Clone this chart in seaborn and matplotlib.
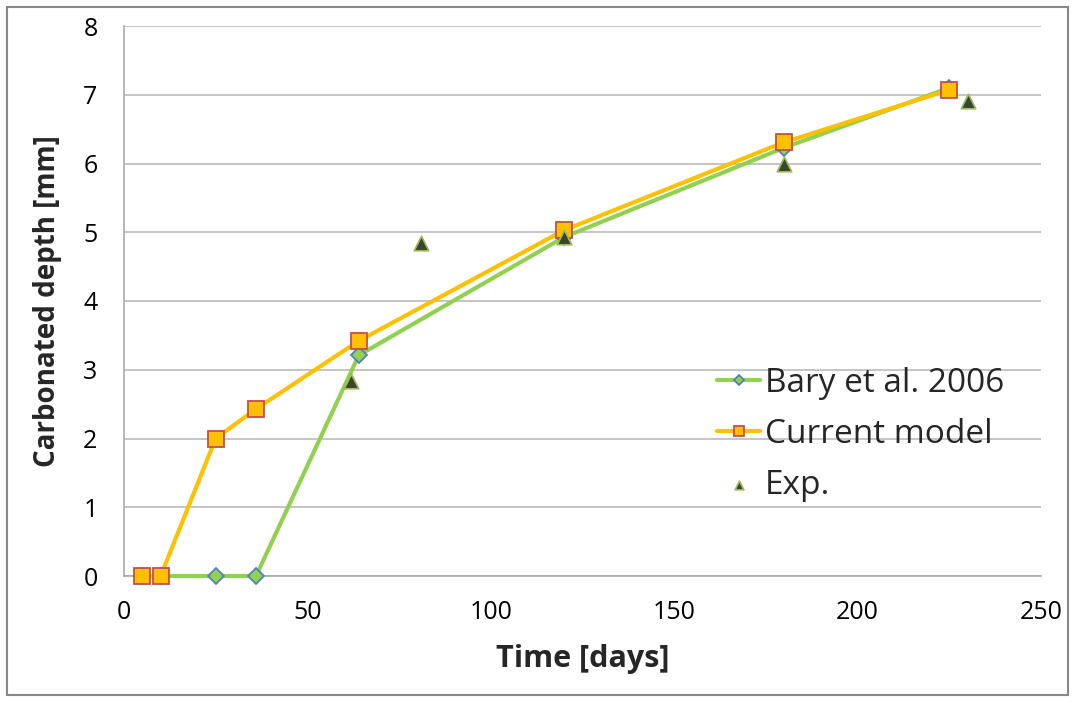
import numpy as np
import pandas as pd
import matplotlib
matplotlib.use("Agg")
import matplotlib.pyplot as plt
from matplotlib.patches import Rectangle
import seaborn as sns

# =========================================
# data
# =========================================
bary_days = [5, 10, 25, 36, 64, 120, 180, 225]
bary_depth = [0.0, 0.0, 0.0, 0.0, 3.21, 4.93, 6.23, 7.10]

model_days = [5, 10, 25, 36, 64, 120, 180, 225]
model_depth = [0.0, 0.0, 2.0, 2.43, 3.42, 5.03, 6.31, 7.07]

exp_days = [62, 81, 120, 180, 230]
exp_depth = [2.84, 4.85, 4.93, 6.0, 6.91]

x_ticks = [0, 50, 100, 150, 200, 250]
y_ticks = [0, 1, 2, 3, 4, 5, 6, 7, 8]

# =========================================
# style
# =========================================
sns.set_style("white")
plt.rcParams['font.family'] = ['Open Sans', 'DejaVu Sans']

fig = plt.figure(figsize=(10.75, 7.02), dpi=100)
ax = fig.add_axes([124/1075, 1 - 576/702, (1041 - 124)/1075, (576 - 26)/702])

sns.lineplot(x=bary_days, y=bary_depth, ax=ax, color='#92D050', lw=3,
             marker='D', markersize=8, markerfacecolor='#92D050',
             markeredgecolor='#4F81BD', markeredgewidth=1.3,
             label='Bary et al. 2006', zorder=3, clip_on=False)
sns.lineplot(x=model_days, y=model_depth, ax=ax, color='#FFC000', lw=3,
             marker='s', markersize=11, markerfacecolor='#FFC000',
             markeredgecolor='#C0504D', markeredgewidth=1.3,
             label='Current model', zorder=4, clip_on=False)
sns.scatterplot(x=exp_days, y=exp_depth, ax=ax, marker='^', s=110,
                color='#3A4530', edgecolor='#9BBB59', linewidth=1.2,
                label='Exp.', zorder=5, clip_on=False)

ax.set_xlim(0, 250)
ax.set_ylim(0, 8)
ax.set_xticks(x_ticks)
ax.set_yticks(y_ticks)
ax.yaxis.grid(True, color='#BBBBBB', lw=1.2)
ax.xaxis.grid(False)
for s in ['top', 'right']:
    ax.spines[s].set_visible(False)
for s in ['left', 'bottom']:
    ax.spines[s].set_color('#AAAAAA')
    ax.spines[s].set_linewidth(1.2)
ax.tick_params(axis='both', labelsize=18, colors='#AAAAAA', labelcolor='black',
               length=7, width=1.2, direction='out')
ax.tick_params(axis='y', pad=12)
ax.tick_params(axis='x', pad=10)

ax.set_xlabel('Time [days]', fontsize=22, fontweight='bold', labelpad=14)
ax.set_ylabel('Carbonated depth [mm]', fontsize=20, fontweight='bold', labelpad=15)

leg = ax.legend(loc='upper left', bbox_to_anchor=(0.632, 0.405), frameon=False,
                fontsize=24, handlelength=1.3, handletextpad=0.15,
                labelspacing=0.55, borderaxespad=0, markerscale=0.6)

fig.patches.append(Rectangle((7/1075, 7/702), 1 - 14/1075, 1 - 14/702,
                             transform=fig.transFigure, fill=False,
                             edgecolor='#888888', lw=1.5))

plt.savefig('out.png', dpi=100)
